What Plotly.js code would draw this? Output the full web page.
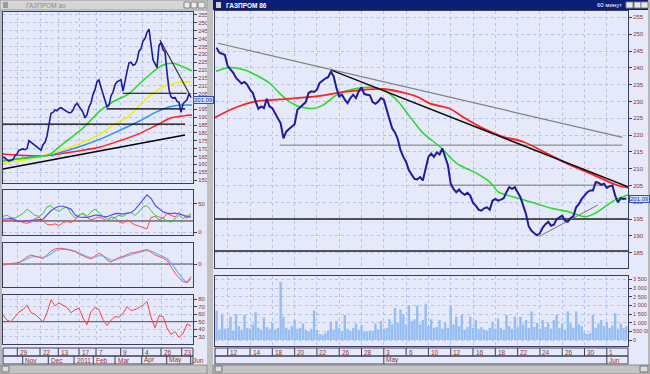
<!DOCTYPE html>
<html><head><meta charset="utf-8">
<script src="https://cdn.plot.ly/plotly-3.0.1.min.js"></script>
<style>html,body{margin:0;padding:0;background:#c0c0c0;overflow:hidden}#chart{width:650px;height:374px}</style>
</head><body><div id="chart"></div>
<script>
// ===== LEFT WINDOW: daily chart (one value per bar slot) =====
const leftPrice = [164.5,164.0,162.8,162.0,162.5,163.0,165.5,166.5,169.0,169.5,
 169.8,169.3,170.0,175.0,174.0,173.0,171.5,170.5,170.0,169.0,
 172.5,174.0,178.0,186.0,192.5,193.0,194.5,194.0,195.5,196.0,
 195.0,194.0,193.5,192.8,193.0,194.5,197.5,198.8,197.0,195.0,
 193.0,189.5,191.5,196.5,199.0,204.5,207.5,212.5,213.6,209.0,
 204.5,200.0,196.5,197.5,203.5,206.0,210.5,212.5,213.0,213.8,
 206.5,214.0,219.0,224.5,225.0,223.0,223.5,226.0,232.0,233.5,
 238.5,240.0,244.0,246.0,236.0,226.5,224.0,221.5,235.5,237.5,
 233.0,231.5,218.5,207.5,203.0,202.0,202.5,200.0,199.5,193.0,
 198.5,199.5,201.0,205.0,202.5];
// moving averages (knots: bar slot, value)
const leftMaGreenX = [0,8.5,18.5,23.5,28.5,33.5,40,48.5,55,62,68.5,75,80,85,90,94.5];
const leftMaGreenY = [162.5,163.5,165.0,166.5,171.5,176.5,183,194.0,199.8,204.1,211.5,218.9,223.2,224.3,222.1,219.4];
const leftMaYellowX = [0,15,23.5,40,48.5,53.5,62.5,71,79.5,87.5,94.5];
const leftMaYellowY = [160.6,163.8,166.5,174,179,183.5,190.3,200.9,209.0,211.9,212.6];
const leftMaBlueX = [0,15,23.5,40,48.5,57,68.5,77,83.5,89.5,94.5];
const leftMaBlueY = [162.1,164.8,165.9,172,176,180.8,187.7,193.5,196.6,197.7,197.7];
const leftMaRedX = [0,8.5,18.5,23.5,32,40,48.5,57,68.5,77,83.5,89.5,94.5];
const leftMaRedY = [166.5,165.7,165.3,165.7,167.4,169,171,174.4,179.7,185.0,189.3,190.7,191.4];
// drawn lines (x0,x1 / y0,y1)
const leftSupportX = [0,91], leftSupportY = [157.0,178.6];
const leftLevel1X = [0,91], leftLevel1Y = [185.6,185.6];
const leftLevel2X = [59.85,91.85], leftLevel2Y = [205.2,205.2];
const leftLevel3X = [51.85,91], leftLevel3Y = [195.2,195.2];
const leftTrendX = [78.5,93.5], leftTrendY = [239.1,204.1];
// indicators (every second slot)
const adxBlue = [23,24,24.5,22,19,19.5,20.5,21.5,22,22.5,23,30,38,43,46,46,44,41,31,27,26.5,26.5,28,30.5,30,28,27.5,30,33,33.5,32,34,35,40,49,58,66,60,48,42,36,34,33,34,32,30,28,26.5];
const adxGreen = [28,30,26,25,29,33,41,36,30,28,33,45,47,40,37,42,45,33,25,30,34,28,36,41,35,28,24,21,26,30,28,33,35,30,36,45,47,38,30,27,25,20,18,24,30,24,28,33];
const adxRed = [21,20,22,19,21,17,16,18,24,27,20,14,13,15,12,17,19,17,22,30,33,26,22,25,27,24,20,27,26,18,16,22,17,13,11,9,6,26,28,22,25,33,30,27,35,30,25,30];
const macdRed = [-1,-0.5,0,0.5,1.5,4,7,9,8,6.5,5.5,9,13,15,15.8,15.5,14.5,13.5,12.5,10,8,6.5,5,8,11,8.5,4,2,4,6.5,7.5,9.5,11,11.5,12.5,13.5,14.5,12,9,7.5,6,3.5,-3,-9,-14,-17.5,-18.5,-12.5];
const macdBlue = [-0.5,-0.3,0,0.5,1.5,3,5,7,7.5,7,6.5,7.5,10,13,14.5,15,14.8,14,13,11,9,7.5,6.5,7,8.5,8,6,4,4,5,6.5,8,9.5,10.5,11.5,12.5,13.5,13,11,9,7.5,5.5,1,-4.5,-10,-15,-18.5,-15];
const rsiRed = [59,52,50,57,63,66,72,62,60,55,50,62,79,71,75,72,69,62,66,68,55,46,63,69,66,53,45,52,57,56,61,70,65,66,69,72,77,56,42,58,57,42,33,37,29,34,47,44];
const leftDayTicks = [7.15,18.5,27.65,38,46.5,58.85,69.85,79,89.35];
const leftDayLabels = ['29','22','13','17','7','9','4','26','23'];
const leftMonthTicks = [9.85,22.65,35.5,45.15,56,69.35,81.85,93.85];
const leftMonthLabels = ['Nov','Dec','2011','Feb','Mar','Apr','May','Jun'];

// ===== RIGHT WINDOW: 60-minute chart (trading days from Apr 12, quarter-day slots) =====
const rightStart = -1.0, rightStep = 0.25;
const rightPrice = [246.0,244.5,244.2,243.8,240.5,239.5,238.5,237.0,236.0,235.3,
 235.8,235.0,233.5,232.5,230.0,227.8,228.5,228.0,230.8,228.5,
 228.0,226.5,225.0,223.5,219.0,221.0,221.8,222.5,223.2,227.5,
 228.3,229.0,229.8,232.5,233.0,232.8,233.5,235.5,236.2,236.8,
 237.2,238.8,237.5,234.0,231.5,232.0,230.5,229.5,231.0,232.0,
 231.0,233.0,234.2,232.2,232.0,231.8,229.8,229.3,230.0,231.0,
 230.5,228.0,224.8,222.0,220.8,218.8,215.5,213.5,212.0,209.5,
 208.2,207.0,206.8,207.5,206.5,210.5,213.5,214.5,213.5,214.8,
 214.2,216.0,213.5,211.0,205.5,204.0,203.0,203.8,202.8,202.2,
 202.8,202.0,199.8,199.0,197.8,197.5,198.2,198.5,197.8,200.5,
 201.0,200.5,200.8,201.2,203.0,204.5,204.0,204.5,203.0,201.5,
 199.0,196.5,192.8,191.5,190.8,190.2,190.8,192.5,193.5,194.2,
 193.0,193.3,195.0,195.5,196.0,194.5,194.2,195.3,195.8,198.5,
 199.5,201.0,202.0,203.0,203.5,203.5,206.0,205.8,205.2,205.5,
 204.3,204.8,205.0,202.0,200.0,201.2,201.0,201.1];
const rightVolume = [1700,600,1450,650,700,1350,550,1500,800,600,
 1450,700,650,900,1600,700,600,1300,750,650,
 1000,600,700,3350,1350,700,600,800,1150,650,
 700,950,600,500,650,1700,600,350,300,400,
 550,1050,600,1100,700,500,1450,650,550,700,
 950,600,850,500,450,550,500,950,600,1100,
 650,700,1200,900,1850,1000,1750,1500,900,2000,
 1100,1200,2000,900,1150,2100,800,1200,700,750,
 1150,650,1000,700,1950,900,1350,800,1450,600,
 750,1350,700,1150,650,750,600,550,700,1050,
 650,1250,700,600,1450,800,650,1350,750,1350,
 900,1150,700,1650,750,1000,650,1150,750,1000,
 650,1150,1450,700,950,600,1650,950,700,1650,
 900,800,400,350,400,1450,700,950,1150,800,
 1050,700,850,1550,650,950,700,800]; // thousands
const rightMaRedX = [-1.14,0.5,2.3,4.7,7.7,10.6,14.0,17.0,18.1,19.9,21.1,22.9,24.7,26.5,28.6,30.7,32.5,34.9,35.9];
const rightMaRedY = [225.2,227.9,229.9,230.6,231.4,232.9,233.7,231.4,229.4,227.9,225.4,222.0,219.5,218.0,214.6,211.1,208.6,205.1,204.4];
const rightMaGreenX = [-1.05,0.18,1.37,2.57,3.77,4.66,5.56,6.46,7.65,8.55,9.74,10.94,12.76,13.96,15.16,16.35,17.54,19.04,20.54,22.33,23.52,24.27,26.06,27.56,29.06,30.55,32.04,32.94,33.84,34.73,35.63,35.9];
const rightMaGreenY = [239.0,240.1,239.5,237.8,235.4,232.4,229.9,228.4,227.9,228.9,231.9,233.4,234.2,233.4,230.4,225.4,220.5,216.5,211.6,208.6,206.0,203.1,201.2,199.7,198.2,197.2,195.7,196.7,198.7,200.7,201.9,202.2];
const rightTopTrendX = [-0.87,35.4], rightTopTrendY = [247.3,219.3];
const rightTrendX = [9.29,35.9], rightTrendY = [239.3,204.6];
const rightGrayLevel1X = [4.66,35.4], rightGrayLevel1Y = [217.0,217.0];
const rightGrayLevel2X = [17.1,33.8], rightGrayLevel2Y = [205.1,205.1];
const rightBlackLevel1X = [-1.14,35.9], rightBlackLevel1Y = [195.0,195.0];
const rightBlackLevel2X = [-1.14,35.9], rightBlackLevel2Y = [185.5,185.5];
const rightSupportX = [27.9,33.2], rightSupportY = [189.8,199.2];
const rightDayTicks = [0,2,4,6,8,10,12,14,16,18,20,22,24,26,28,30,32,34];
const rightDayLabels = ['12','14','18','20','22','26','28','3','6','10','12','16','18','22','24','26','30','1'];
const rightMonthTicks = [14,34];
const rightMonthLabels = ['May','Jun'];
const volTicks = [0,500,1000,1500,2000,2500,3000,3500];
const volLabels = ['0','500 000','1 000 000','1 500 000','2 000 000','2 500 000','3 000 000','3 500 000'];
const lastPrice = 201.09;

// ===== layout helpers =====
const W=650,H=374;
const PX=v=>v/W, PY=v=>1-v/H;
const GRID='#b6c2ee', FRAME='#3c3c5c', LBL='#8c3434', BG='#e5e9f9';
const FONT='Liberation Sans, Arial, sans-serif';
const TF={family:FONT,size:6,color:LBL};
const LX=[PX(3),PX(193)], RX=[PX(215),PX(628)];
const LXR=[0,95], RXR=[-1.14,35.9];
function xa(dom,rng,anchor,ticks){return {domain:dom,range:rng,anchor:anchor,tickvals:ticks,showticklabels:false,ticks:'',showgrid:true,gridcolor:GRID,griddash:'dot',zeroline:false,showline:true,mirror:true,linecolor:FRAME,linewidth:1,fixedrange:true};}
function ya(dom,rng,anchor,extra){return Object.assign({domain:dom,range:rng,anchor:anchor,side:'right',showgrid:true,gridcolor:GRID,griddash:'dot',zeroline:false,showline:true,mirror:true,linecolor:FRAME,linewidth:1,ticks:'outside',ticklen:3,tickcolor:FRAME,tickfont:TF,fixedrange:true},extra);}

const idx = a => a.map((_,i)=>i);
const idx2 = a => a.map((_,i)=>i*2);
const rx = rightPrice.map((_,i)=>rightStart+i*rightStep);
const ln = (x,y,xa_,ya_,color,width,extra) => Object.assign({type:'scatter',mode:'lines',x:x,y:y,xaxis:xa_,yaxis:ya_,line:{color:color,width:width},hoverinfo:'skip',showlegend:false},extra||{});
const sp = {shape:'spline',smoothing:0.8};

const traces = [
 // left price panel
 ln(leftMaRedX,leftMaRedY,'x','y','#ff2020',1.5,{line:Object.assign({color:'#ff2020',width:1.5},sp)}),
 ln(leftMaBlueX,leftMaBlueY,'x','y','#2a92ff',1.5,{line:Object.assign({color:'#2a92ff',width:1.5},sp)}),
 ln(leftMaYellowX,leftMaYellowY,'x','y','#f2f000',1.5,{line:Object.assign({color:'#f2f000',width:1.5},sp)}),
 ln(leftMaGreenX,leftMaGreenY,'x','y','#22dd22',1.5,{line:Object.assign({color:'#22dd22',width:1.5},sp)}),
 ln(leftSupportX,leftSupportY,'x','y','#000',1.5),
 ln(leftLevel1X,leftLevel1Y,'x','y','#000',1.2),
 ln(leftLevel2X,leftLevel2Y,'x','y','#000',1.2),
 ln(leftLevel3X,leftLevel3Y,'x','y','#000',1.2),
 ln(leftTrendX,leftTrendY,'x','y','#303030',1.2),
 ln(idx(leftPrice),leftPrice,'x','y','#1c1ca0',1.6),
 // ADX panel
 ln([0,95],[20,20],'x2','y2','#303030',1),
 ln(idx2(adxRed),adxRed,'x2','y2','#ff4c4c',1),
 ln(idx2(adxGreen),adxGreen,'x2','y2','#33cc33',1),
 ln(idx2(adxBlue),adxBlue,'x2','y2','#5050ff',1.2),
 // MACD panel
 ln([0,95],[0,0],'x3','y3','#505050',1),
 ln(idx2(macdBlue),macdBlue,'x3','y3','#6ab4ff',1.2),
 ln(idx2(macdRed),macdRed,'x3','y3','#ff5050',1),
 // RSI panel
 ln([0,95],[50,50],'x4','y4','#505050',1),
 ln(idx2(rsiRed),rsiRed,'x4','y4','#ff4040',1),
 // right price panel
 ln(rightBlackLevel1X,rightBlackLevel1Y,'x5','y5','#202020',1.5),
 ln(rightBlackLevel2X,rightBlackLevel2Y,'x5','y5','#202020',1.5),
 ln(rightGrayLevel1X,rightGrayLevel1Y,'x5','y5','#787878',1),
 ln(rightGrayLevel2X,rightGrayLevel2Y,'x5','y5','#787878',1),
 ln(rightSupportX,rightSupportY,'x5','y5','#787878',1),
 ln(rightTopTrendX,rightTopTrendY,'x5','y5','#808080',1.2),
 ln(rightMaGreenX,rightMaGreenY,'x5','y5','#22dd22',1.5,{line:Object.assign({color:'#22dd22',width:1.5},sp)}),
 ln(rightMaRedX,rightMaRedY,'x5','y5','#ff2020',1.8,{line:Object.assign({color:'#ff2020',width:1.8},sp)}),
 ln(rightTrendX,rightTrendY,'x5','y5','#101010',1.5),
 ln(rx,rightPrice,'x5','y5','#1c1ca0',2),
 // volume
 {type:'bar',x:rx,y:rightVolume,xaxis:'x6',yaxis:'y6',marker:{color:'#93bdf3',line:{width:0}},hoverinfo:'skip',showlegend:false}
];

// date label annotations & separators
const annotations = [];
const shapes = [];
const ROW1=[348,356], ROW2=[356,364];
function dateRow(ticks,labels,xref,row,dom){
  shapes.push({type:'rect',xref:'paper',yref:'paper',x0:dom[0],x1:dom[1],y0:PY(row[1]),y1:PY(row[0]),line:{color:FRAME,width:1},fillcolor:'rgba(0,0,0,0)',layer:'above'});
  ticks.forEach((t,i)=>{
    shapes.push({type:'line',xref:xref,yref:'paper',x0:t,x1:t,y0:PY(row[1]),y1:PY(row[0]),line:{color:FRAME,width:1}});
    annotations.push({xref:xref,yref:'paper',x:t,y:PY((row[0]+row[1])/2),text:labels[i],showarrow:false,xanchor:'left',yanchor:'middle',xshift:0.5,font:{family:FONT,size:6.5,color:LBL}});
  });
}
dateRow(leftDayTicks,leftDayLabels,'x4',ROW1,LX);
dateRow(leftMonthTicks,leftMonthLabels,'x4',ROW2,LX);
dateRow(rightDayTicks,rightDayLabels,'x6',ROW1,RX);
dateRow(rightMonthTicks,rightMonthLabels,'x6',ROW2,RX);

// window chrome
const rect=(x0,y0,x1,y1,fill,line)=>shapes.push({type:'rect',xref:'paper',yref:'paper',x0:PX(x0),x1:PX(x1),y0:PY(y1),y1:PY(y0),fillcolor:fill,line:{color:line||fill,width:line?1:0},layer:'above'});
rect(0,0,2,374,'#b8b8b8');
rect(207,0,213,374,'#c0c0c0');
rect(648,0,650,374,'#b8b8b8');
rect(0,0,207,10,'#d6d6d6','#9a9a9a');
rect(213,0,648,10,'#0c1f78');
rect(0,365,207,374,'#c4c4c4','#8a8a8a');
rect(213,365,650,374,'#c4c4c4','#8a8a8a');
rect(2,366,9,372,'#dcdcdc','#707070');
rect(215,366,222,372,'#dcdcdc','#707070');
rect(640,366,648,372,'#dcdcdc','#707070');
rect(3,2,8,8,'#9c9c9c');
rect(184,2,190,8,'#ececec','#808080');
rect(191,2,197,8,'#ececec','#808080');
rect(198,2,205,8,'#ececec','#808080');
rect(216,2,221,8,'#d0d0d0');
rect(626,2,633,8,'#e8e8e8','#808080');
rect(634,2,641,8,'#e8e8e8','#808080');
rect(641,2,648,8,'#e8e8e8','#808080');

annotations.push(
 {xref:'paper',yref:'paper',x:PX(24),y:PY(5),text:'ГАЗПРОМ ао',showarrow:false,xanchor:'left',yanchor:'middle',font:{family:FONT,size:6.5,color:'#8a8a8a'}},
 {xref:'paper',yref:'paper',x:PX(224),y:PY(5),text:'<b>ГАЗПРОМ 86</b>',showarrow:false,xanchor:'left',yanchor:'middle',font:{family:FONT,size:6.5,color:'#ffffff'}},
 {xref:'paper',yref:'paper',x:PX(624),y:PY(5),text:'60 минут',showarrow:false,xanchor:'right',yanchor:'middle',font:{family:FONT,size:6,color:'#ffffff'}},
 {xref:'paper',yref:'y5',x:PX(629),y:lastPrice,text:lastPrice.toFixed(2),showarrow:false,xanchor:'left',yanchor:'middle',bgcolor:'#cfe0ff',bordercolor:'#3050c0',borderwidth:1,borderpad:0,font:{family:FONT,size:6,color:'#2030a0'}},
 {xref:'paper',yref:'y',x:PX(193),y:lastPrice,text:lastPrice.toFixed(2),showarrow:false,xanchor:'left',yanchor:'middle',bgcolor:'#cfe0ff',bordercolor:'#3050c0',borderwidth:1,borderpad:0,font:{family:FONT,size:6,color:'#2030a0'}}
);

const layout = {
 width:W,height:H,margin:{l:0,r:0,t:0,b:0},
 paper_bgcolor:BG,plot_bgcolor:BG,showlegend:false,bargap:0.15,
 xaxis:xa(LX,LXR,'y',leftDayTicks),
 yaxis:ya([PY(183),PY(12)],[148.1,256.9],'x',{dtick:5,tick0:0}),
 xaxis2:xa(LX,LXR,'y2',leftDayTicks),
 yaxis2:ya([PY(235),PY(190)],[-4.8,74.7],'x2',{tickvals:[0,50]}),
 xaxis3:xa(LX,LXR,'y3',leftDayTicks),
 yaxis3:ya([PY(287.3),PY(243.3)],[-23.3,20.7],'x3',{tickvals:[0]}),
 xaxis4:xa(LX,LXR,'y4',leftDayTicks),
 yaxis4:ya([PY(344),PY(295)],[20.3,85.6],'x4',{tickvals:[30,40,50,60,70,80]}),
 xaxis5:xa(RX,RXR,'y5',rightDayTicks),
 yaxis5:ya([PY(268),PY(11)],[180.45,256.9],'x5',{dtick:5,tick0:0}),
 xaxis6:xa(RX,RXR,'y6',rightDayTicks),
 yaxis6:ya([PY(346),PY(276)],[-347,3699],'x6',{tickvals:volTicks,ticktext:volLabels,tickfont:{family:FONT,size:5.5,color:LBL}}),
 shapes:shapes,annotations:annotations
};
Plotly.newPlot('chart',traces,layout,{displayModeBar:false,staticPlot:true});
</script></body></html>
